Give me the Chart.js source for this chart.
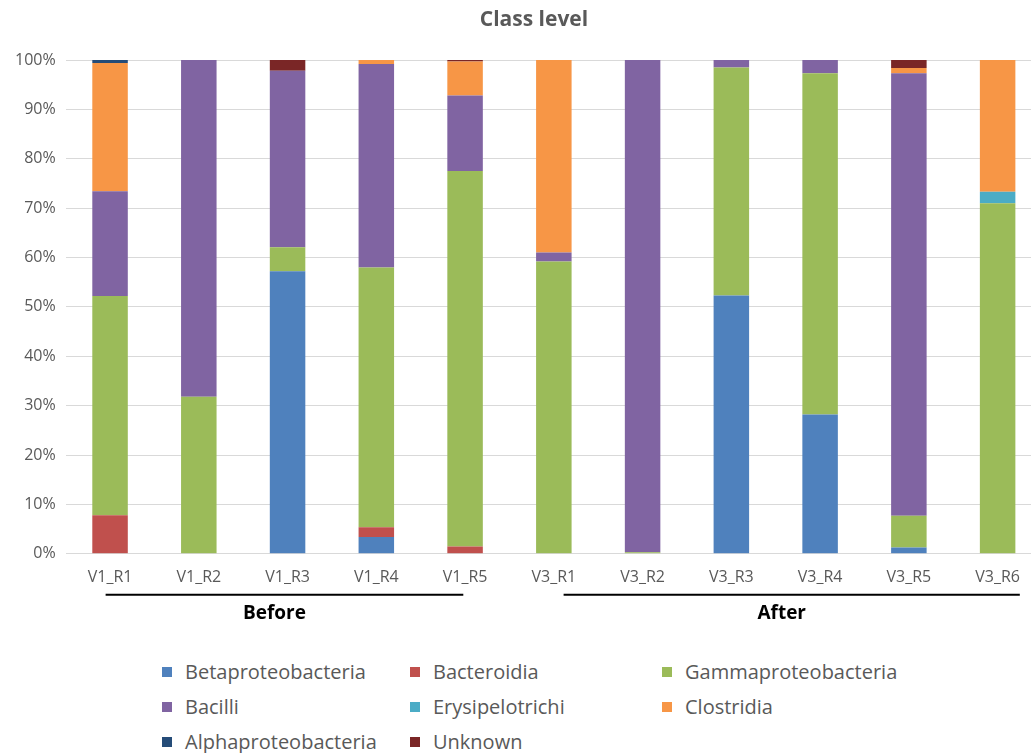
<!DOCTYPE html>
<html>
<head>
<meta charset="utf-8">
<title>Class level</title>
<script src="https://cdn.jsdelivr.net/npm/chart.js@4.4.1/dist/chart.umd.min.js"></script>
<style>
  html, body { margin: 0; padding: 0; background: #fff; overflow: hidden; }
  body { width: 1031px; height: 753px; position: relative; font-family: "Open Sans", sans-serif; }
  #title { position: absolute; left: 0; top: 3px; width: 1068px; text-align: center;
           font-size: 21px; font-weight: bold; color: #595959; line-height: 30px; }
  #wrap { position: absolute; left: 0; top: 0; width: 1042px; height: 640px; }
  #legend { position: absolute; left: 162px; top: 657px; display: grid;
            grid-template-columns: 248px 252px 260px; row-gap: 6px; }
  .item { display: flex; align-items: center; font-size: 20px; color: #595959; height: 29px; }
  .box { width: 10px; height: 10px; margin-right: 13px; }
</style>
</head>
<body>
<div id="wrap"><canvas id="classChart"></canvas></div>
<div id="title">Class level</div>
<div id="legend"></div>
<script>
// samples and relative abundance (%) per class
const samples = ['V1_R1', 'V1_R2', 'V1_R3', 'V1_R4', 'V1_R5', 'V3_R1', 'V3_R2', 'V3_R3', 'V3_R4', 'V3_R5', 'V3_R6'];

const betaproteobacteria  = [0, 0, 57.2, 3.4, 0, 0, 0, 52.3, 28.2, 1.3, 0];
const bacteroidia         = [7.8, 0, 0, 2.0, 1.5, 0, 0, 0, 0, 0, 0];
const gammaproteobacteria = [44.4, 31.8, 4.9, 52.6, 76.0, 59.2, 0.3, 46.2, 69.1, 6.4, 71.0];
const bacilli             = [21.2, 68.2, 35.7, 41.2, 15.3, 1.8, 99.7, 1.5, 2.7, 89.6, 0];
const erysipelotrichi     = [0, 0, 0, 0, 0, 0, 0, 0, 0, 0, 2.3];
const clostridia          = [26.0, 0, 0, 0.8, 6.9, 39.0, 0, 0, 0, 1.1, 26.7];
const alphaproteobacteria = [0.6, 0, 0, 0, 0, 0, 0, 0, 0, 0, 0];
const unknown             = [0, 0, 2.2, 0, 0.3, 0, 0, 0, 0, 1.6, 0];

const yTicks = [0, 10, 20, 30, 40, 50, 60, 70, 80, 90, 100];

// sample groups shown under the axis
const groups = [
  { label: 'Before', first: 0, last: 4 },
  { label: 'After', first: 5, last: 10 }
];

const series = [
  { label: 'Betaproteobacteria', data: betaproteobacteria, color: '#4F81BD' },
  { label: 'Bacteroidia', data: bacteroidia, color: '#C0504D' },
  { label: 'Gammaproteobacteria', data: gammaproteobacteria, color: '#9BBB59' },
  { label: 'Bacilli', data: bacilli, color: '#8064A2' },
  { label: 'Erysipelotrichi', data: erysipelotrichi, color: '#4BACC6' },
  { label: 'Clostridia', data: clostridia, color: '#F79646' },
  { label: 'Alphaproteobacteria', data: alphaproteobacteria, color: '#254C78' },
  { label: 'Unknown', data: unknown, color: '#7A2626' }
];

// lines and captions for the Before / After groups
const groupLabels = {
  id: 'groupLabels',
  afterDraw(chart) {
    const ctx = chart.ctx;
    const x = chart.scales.x;
    const step = x.getPixelForValue(1) - x.getPixelForValue(0);
    const lineY = chart.chartArea.bottom + 41;
    const pads = [[-0.05, -0.02], [0.11, 0.25]];
    const shift = [-10, -10];
    ctx.save();
    groups.forEach((g, i) => {
      const x0 = x.getPixelForValue(g.first) + pads[i][0] * step;
      const x1 = x.getPixelForValue(g.last) + pads[i][1] * step;
      ctx.strokeStyle = '#000';
      ctx.lineWidth = 2;
      ctx.beginPath();
      ctx.moveTo(x0, lineY);
      ctx.lineTo(x1, lineY);
      ctx.stroke();
      ctx.fillStyle = '#000';
      ctx.font = 'bold 19px "Open Sans", sans-serif';
      ctx.textAlign = 'center';
      ctx.textBaseline = 'middle';
      ctx.fillText(g.label, (x0 + x1) / 2 + shift[i], lineY + 19);
    });
    ctx.restore();
  }
};

const ctx = document.getElementById('classChart').getContext('2d');
const classChart = new Chart(ctx, {
  type: 'bar',
  data: {
    labels: samples,
    datasets: series.map(s => ({
      label: s.label,
      data: s.data,
      backgroundColor: s.color,
      borderWidth: 0,
      barPercentage: 0.4,
      categoryPercentage: 1
    }))
  },
  options: {
    responsive: true,
    maintainAspectRatio: false,
    animation: false,
    layout: { padding: { left: 5, right: 0, top: 60, bottom: 47 } },
    scales: {
      x: {
        stacked: true,
        grid: { display: false },
        border: { display: false },
        ticks: { color: '#595959', font: { family: 'Open Sans', size: 16 }, padding: 6 }
      },
      y: {
        stacked: true,
        min: 0,
        max: 100,
        afterBuildTicks: axis => { axis.ticks = yTicks.map(v => ({ value: v })); },
        grid: { color: '#D9D9D9', drawTicks: false },
        border: { display: false },
        ticks: {
          color: '#595959',
          font: { family: 'Open Sans', size: 16 },
          padding: 10,
          callback: v => v + '%'
        }
      }
    },
    plugins: {
      legend: { display: false },
      tooltip: { enabled: false },
      title: { display: false }
    }
  },
  plugins: [groupLabels]
});

// legend in three columns
const legend = document.getElementById('legend');
classChart.data.datasets.forEach(ds => {
  const item = document.createElement('div');
  item.className = 'item';
  const box = document.createElement('span');
  box.className = 'box';
  box.style.background = ds.backgroundColor;
  item.appendChild(box);
  item.appendChild(document.createTextNode(ds.label));
  legend.appendChild(item);
});
</script>
</body>
</html>
